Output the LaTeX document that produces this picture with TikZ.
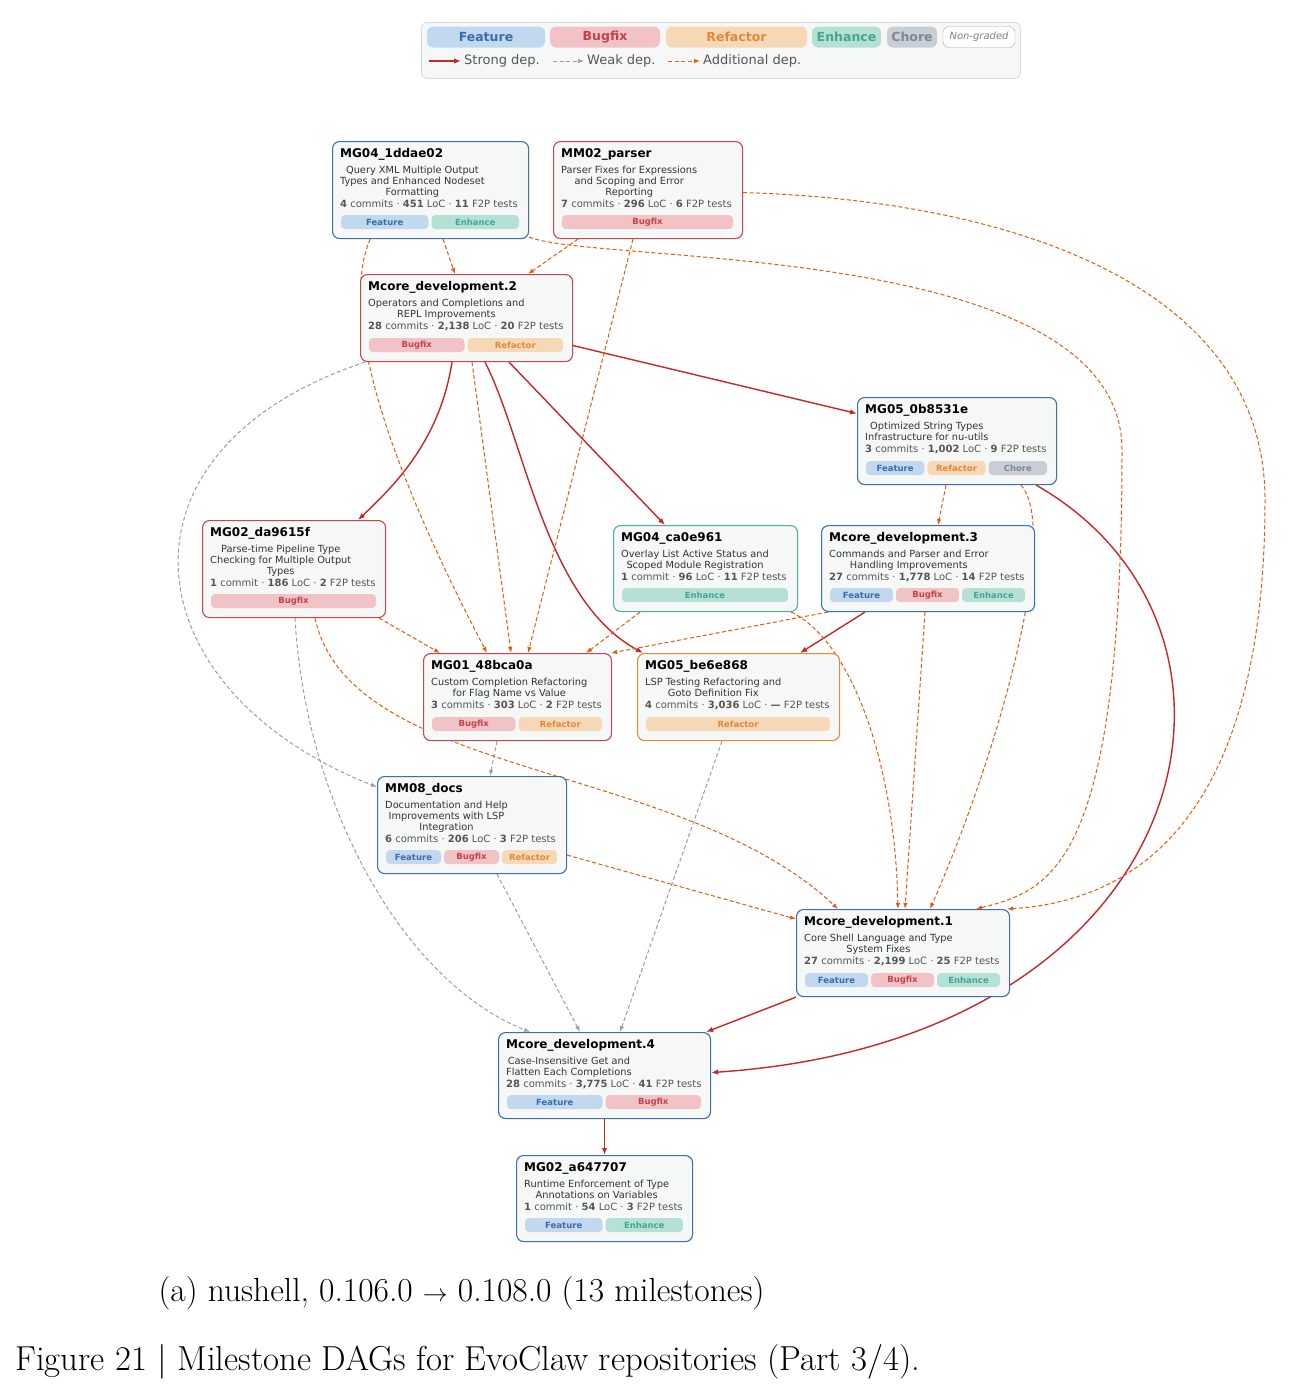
\documentclass[tikz,border=0pt]{standalone}
\usepackage{fontspec}
\setsansfont{DejaVu Sans}
\usepackage{xcolor}
\usepackage{tikz}
\usetikzlibrary{arrows.meta,backgrounds}

\definecolor{fillFeature}{HTML}{C1D8EE}
\definecolor{textFeature}{HTML}{3A6DA8}
\definecolor{fillBugfix}{HTML}{F2C3C6}
\definecolor{textBugfix}{HTML}{C2434B}
\definecolor{fillRefactor}{HTML}{F7D8B6}
\definecolor{textRefactor}{HTML}{E0893B}
\definecolor{fillEnhance}{HTML}{B5E0D6}
\definecolor{textEnhance}{HTML}{45A68F}
\definecolor{fillChore}{HTML}{C9CED6}
\definecolor{textChore}{HTML}{7D8796}
\definecolor{featline}{HTML}{3C6FB0}
\definecolor{bugline}{HTML}{C8464D}
\definecolor{refline}{HTML}{E08A3E}
\definecolor{enhline}{HTML}{4DB39A}
\definecolor{boxfill}{HTML}{F6F8F7}
\definecolor{desctext}{HTML}{333333}
\definecolor{stattext}{HTML}{555555}
\definecolor{strongdep}{HTML}{C62828}
\definecolor{weakdep}{HTML}{9E9E9E}
\definecolor{adddep}{HTML}{E8590C}

% counts line of a milestone
\newcommand{\counts}[4]{\textbf{#1} #2 · \textbf{#3} LoC · \textbf{#4} F2P tests}

% milestone box: name, top left, width, height, border, title, description, counts, tags
\newcommand{\milestone}[9]{%
  \node[msbox, draw=#5, minimum width=#3pt, minimum height=#4pt] (#1) at (#2) {};
  \node[mstitle] (#1-title) at ([xshift=8pt,yshift=-16pt]#1.north west) {#6};
  \node[msdesc] (#1-desc) at ([xshift=8pt,yshift=-24.3pt]#1.north west) {\strut#7\strut};
  \node[msstats] (#1-stats) at ([yshift=-8.7pt]#1-desc.south west) {#8};
  \foreach \tg [count=\n] in {#9} {\xdef\ntags{\n}}
  \pgfmathsetmacro{\tagw}{(#3-18-(\ntags-1)*3)/\ntags}
  \foreach \tg [count=\i] in {#9} {
    \pgfmathsetmacro{\tagx}{9+(\i-1)*(\tagw+3)+\tagw/2}
    \node[tag=\tg, minimum width=\tagw pt] (#1-tag\i) at ([xshift=\tagx pt,yshift=17pt]#1.south west) {\tg};
  }
}

\begin{document}
\begin{tikzpicture}[x=1pt, y=-1pt,
    msbox/.style={anchor=north west, rounded corners=7pt, fill=boxfill, line width=1.1pt, inner sep=0pt},
    mstitle/.style={anchor=base west, inner sep=0pt, font=\sffamily\bfseries\fontsize{12}{14}\selectfont},
    msdesc/.style={anchor=north west, inner sep=0pt, align=center, text=desctext, font=\sffamily\fontsize{9.8}{11}\selectfont},
    msstats/.style={anchor=base west, inner sep=0pt, text=stattext, font=\sffamily\fontsize{10}{11}\selectfont},
    tag/.style={fill=fill#1, text=text#1, rounded corners=4pt, inner sep=0pt, minimum height=14pt, font=\sffamily\bfseries\fontsize{8.5}{9}\selectfont},
    legtag/.style={tag=#1, rounded corners=6pt, minimum height=21pt, font=\sffamily\bfseries\fontsize{12.5}{14}\selectfont},
    legtext/.style={anchor=west, inner sep=0pt, text=stattext, font=\sffamily\fontsize{13}{15}\selectfont},
    strong/.style={draw=strongdep, line width=1.4pt, -{Latex[length=7pt,width=5.5pt]}},
    weak/.style={draw=weakdep, line width=1pt, dash pattern=on 4pt off 2.5pt, -{Latex[length=6pt,width=4.5pt]}},
    extra/.style={draw=adddep, line width=1pt, dash pattern=on 4pt off 2.5pt, -{Latex[length=6pt,width=4.5pt]}}
  ]
  \useasboundingbox (0,0) rectangle (1303,1395);

  % legend
  \node[anchor=north west, draw=black!15, fill=boxfill, rounded corners=6pt, line width=0.8pt, minimum width=599pt, minimum height=56pt] (legend) at (421,22) {};
  \node[legtag=Feature, minimum width=118pt] (lg-feature) at (486,37) {Feature};
  \node[legtag=Bugfix, minimum width=110pt] (lg-bugfix) at (605,37) {Bugfix};
  \node[legtag=Refactor, minimum width=141pt] (lg-refactor) at (736.5,37) {Refactor};
  \node[legtag=Enhance, minimum width=69pt] (lg-enhance) at (846.5,37) {Enhance};
  \node[legtag=Chore, minimum width=50pt] (lg-chore) at (912,37) {Chore};
  \node[legtag=Chore, fill=white, draw=black!35, text=black!50, minimum width=72pt,
    font=\sffamily\itshape\fontsize{10}{11}\selectfont] (lg-none) at (979,37) {Non-graded};
  \coordinate (ls-a) at (429,61);
  \coordinate (ls-b) at (461,61);
  \coordinate (lw-a) at (553,61);
  \coordinate (lw-b) at (584,61);
  \coordinate (lx-a) at (668,61);
  \coordinate (lx-b) at (700,61);
  \draw[strong] (ls-a) -- (ls-b);
  \draw[weak] (lw-a) -- (lw-b);
  \draw[extra] (lx-a) -- (lx-b);
  \node[legtext] (lt-strong) at (464,61) {Strong dep.};
  \node[legtext] (lt-weak) at (587,61) {Weak dep.};
  \node[legtext] (lt-extra) at (703,61) {Additional dep.};

  % milestones
  \milestone{xmlout}{332,141}{196}{97}{featline}{MG04\_1ddae02}{Query XML Multiple Output\\Types and Enhanced Nodeset\\Formatting}{\counts{4}{commits}{451}{11}}{Feature,Enhance}
  \milestone{parser}{553,141}{189}{97}{bugline}{MM02\_parser}{Parser Fixes for Expressions\\and Scoping and Error\\Reporting}{\counts{7}{commits}{296}{6}}{Bugfix}
  \milestone{core2}{360,274}{212}{87}{bugline}{Mcore\_development.2}{Operators and Completions and\\REPL Improvements}{\counts{28}{commits}{2,138}{20}}{Bugfix,Refactor}
  \milestone{strtypes}{857,397}{199}{87}{featline}{MG05\_0b8531e}{Optimized String Types\\Infrastructure for nu-utils}{\counts{3}{commits}{1,002}{9}}{Feature,Refactor,Chore}
  \milestone{pipecheck}{202,520}{183}{97}{bugline}{MG02\_da9615f}{Parse-time Pipeline Type\\Checking for Multiple Output\\Types}{\counts{1}{commit}{186}{2}}{Bugfix}
  \milestone{overlay}{613,525}{184}{86}{enhline}{MG04\_ca0e961}{Overlay List Active Status and\\Scoped Module Registration}{\counts{1}{commit}{96}{11}}{Enhance}
  \milestone{core3}{821,525}{213}{86}{featline}{Mcore\_development.3}{Commands and Parser and Error\\Handling Improvements}{\counts{27}{commits}{1,778}{14}}{Feature,Bugfix,Enhance}
  \milestone{completion}{423,653}{188}{87}{bugline}{MG01\_48bca0a}{Custom Completion Refactoring\\for Flag Name vs Value}{\counts{3}{commits}{303}{2}}{Bugfix,Refactor}
  \milestone{lsptest}{637,653}{202}{87}{refline}{MG05\_be6e868}{LSP Testing Refactoring and\\Goto Definition Fix}{\counts{4}{commits}{3,036}{—}}{Refactor}
  \milestone{docs}{377,776}{189}{97}{featline}{MM08\_docs}{Documentation and Help\\Improvements with LSP\\Integration}{\counts{6}{commits}{206}{3}}{Feature,Bugfix,Refactor}
  \milestone{core1}{796,909}{213}{87}{featline}{Mcore\_development.1}{Core Shell Language and Type\\System Fixes}{\counts{27}{commits}{2,199}{25}}{Feature,Bugfix,Enhance}
  \milestone{core4}{498,1032}{212}{86}{featline}{Mcore\_development.4}{Case-Insensitive Get and\\Flatten Each Completions}{\counts{28}{commits}{3,775}{41}}{Feature,Bugfix}
  \milestone{typeenf}{516,1155}{176}{86}{featline}{MG02\_a647707}{Runtime Enforcement of Type\\Annotations on Variables}{\counts{1}{commit}{54}{3}}{Feature,Enhance}

  \begin{pgfonlayer}{background}
    \fill[white] (0,0) rectangle (1303,1395);
    % strong deps
    \draw[strong] ([yshift=-27.5pt]core2.east) -- ([yshift=27.5pt]strtypes.west);
    \draw[strong] ([xshift=92pt]core2.south west) .. controls (440,440) and (395,485) .. ([xshift=156pt]pipecheck.north west);
    \draw[strong] ([xshift=149pt]core2.south west) -- ([xshift=52pt]overlay.north west);
    \draw[strong] ([xshift=125pt]core2.south west) .. controls (525,440) and (545,600) .. ([xshift=6pt]lsptest.north west);
    \draw[strong] ([xshift=44pt]core3.south west) -- ([xshift=163pt]lsptest.north west);
    \draw[strong] ([xshift=-21pt]strtypes.south east) .. controls (1290,630) and (1200,1040) .. ([yshift=3pt]core4.east);
    \draw[strong] (core1.south west) -- ([xshift=-5pt]core4.north east);
    \draw[strong] (core4.south) -- (typeenf.north);
    % weak deps
    \draw[weak] ([xshift=5pt]core2.south west) .. controls (100,450) and (130,690) .. ([yshift=-11pt]docs.north west);
    \draw[weak] ([xshift=74pt]completion.south west) -- ([xshift=113pt]docs.north west);
    \draw[weak] ([xshift=93pt]pipecheck.south west) .. controls (305,800) and (400,980) .. ([xshift=32pt]core4.north west);
    \draw[weak] ([xshift=120pt]docs.south west) -- ([xshift=82pt]core4.north west);
    \draw[weak] ([xshift=85pt]lsptest.south west) -- ([xshift=122pt]core4.north west);
    % additional deps
    \draw[extra] ([xshift=111pt]xmlout.south west) -- ([xshift=95pt]core2.north west);
    \draw[extra] ([xshift=25pt]parser.south west) -- ([xshift=168pt]core2.north west);
    \draw[extra] ([xshift=38pt]xmlout.south west) .. controls (345,300) and (365,420) .. ([xshift=64pt]completion.north west);
    \draw[extra] ([xshift=80pt]parser.south west) -- ([xshift=105pt]completion.north west);
    \draw[extra] ([yshift=-2.5pt]parser.east) .. controls (1000,200) and (1265,280) .. (1265,500) .. controls (1265,800) and (1150,900) .. ([xshift=-3pt]core1.north east);
    \draw[extra] ([yshift=2pt]xmlout.south east) .. controls (600,265) and (1122,240) .. (1122,450) .. controls (1122,870) and (1050,890) .. ([xshift=-34pt]core1.north east);
    \draw[extra] ([xshift=112pt]core2.south west) -- ([xshift=88pt]completion.north west);
    \draw[extra] ([xshift=-7pt]pipecheck.south east) -- ([xshift=17pt]completion.north west);
    \draw[extra] ([xshift=113pt]pipecheck.south west) .. controls (350,780) and (680,760) .. ([xshift=42pt]core1.north west);
    \draw[extra] ([xshift=27pt]overlay.south west) -- ([xshift=-26pt]completion.north east);
    \draw[extra] ([xshift=-7pt]overlay.south east) .. controls (850,640) and (895,760) .. ([xshift=102pt]core1.north west);
    \draw[extra] ([xshift=7pt]core3.south west) -- ([xshift=-1pt]completion.north east);
    \draw[extra] ([xshift=104pt]core3.south west) -- ([xshift=109pt]core1.north west);
    \draw[extra] ([xshift=89pt]strtypes.south west) -- ([xshift=117pt]core3.north west);
    \draw[extra] ([xshift=-36pt]strtypes.south east) .. controls (1060,530) and (1000,750) .. ([xshift=134pt]core1.north west);
    \draw[extra] ([yshift=-30pt]docs.east) -- ([yshift=34pt]core1.west);
  \end{pgfonlayer}

  % captions
  \node[inner sep=0pt, font=\fontsize{33.5}{36}\selectfont] (subcap) at (461.5,1293) {(a) nushell, 0.106.0 $\rightarrow$ 0.108.0 (13 milestones)};
  \node[anchor=west, inner sep=0pt, font=\fontsize{34.7}{38}\selectfont] (figcap) at (15,1362) {Figure 21 | Milestone DAGs for EvoClaw repositories (Part 3/4).};
\end{tikzpicture}
\end{document}
